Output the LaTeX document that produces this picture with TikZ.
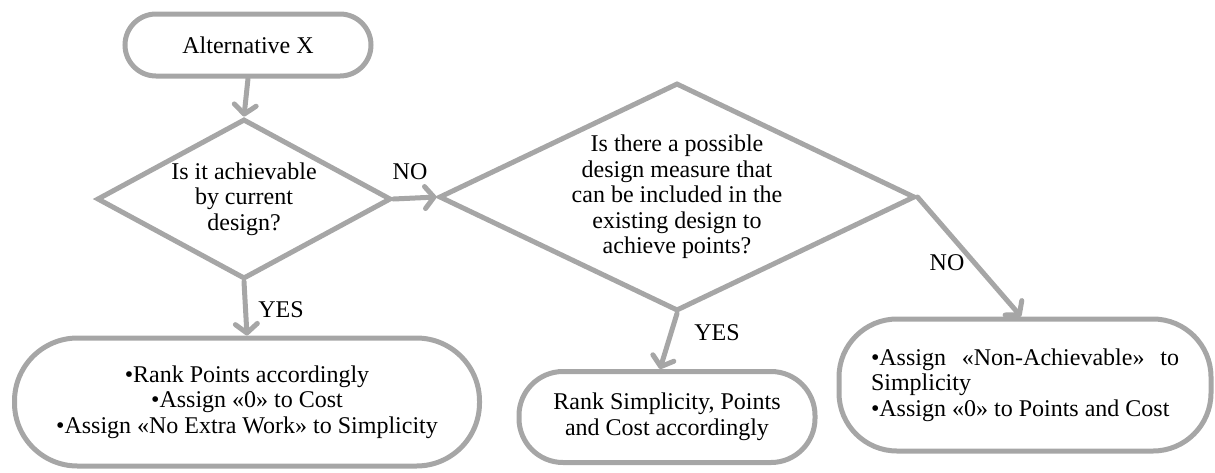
\documentclass[tikz,border=0pt]{standalone}
\usepackage{fontspec}
\setmainfont{Liberation Serif}
\newfontfamily\diagfont{Liberation Serif}
\usetikzlibrary{arrows.meta,shapes.geometric,calc}
\definecolor{linegray}{HTML}{A6A6A6}
\begin{document}
\begin{tikzpicture}[x=1pt,y=-1pt,
  every node/.style={font=\diagfont\fontsize{24}{25.5}\selectfont},
  flowline/.style={draw=linegray,line width=5pt},
  terminal/.style={flowline,rectangle,align=center,inner sep=0pt},
  decision/.style={flowline,diamond,align=center,inner sep=0pt},
  connector/.style={flowline,line cap=round,
    -{Straight Barb[length=9pt,width=22pt,line cap=round,line join=round]}},
  tag/.style={inner sep=0pt}]
\useasboundingbox (0,0) rectangle (1215,472);

% start
\node[terminal,minimum width=246pt,minimum height=62pt,rounded corners=31pt]
  (start) at (248,45) {Alternative X};

% decisions
\node[decision,aspect=1.8,minimum width=294pt,minimum height=160pt]
  (d1) at (244,199) {Is it achievable\\by current\\design?};
\node[decision,aspect=2.05,minimum width=476pt,minimum height=228pt]
  (d2) at (677,197) {Is there a possible\\design measure that\\can be included in the\\existing design to\\achieve points?};

% outcomes
\node[terminal,minimum width=465pt,minimum height=128pt,rounded corners=63pt]
  (box1) at (247,402) {\textbullet Rank Points accordingly\\\textbullet Assign «0» to Cost\\\textbullet Assign «No Extra Work» to Simplicity};
\node[terminal,minimum width=296pt,minimum height=91pt,rounded corners=44pt]
  (box2) at (667,417) {Rank Simplicity, Points\\and Cost accordingly};
\node[flowline,rectangle,minimum width=372pt,minimum height=132pt,rounded corners=58pt,
  inner sep=0pt]
  (box3) at (1025,385) {\parbox{308pt}{\hyphenpenalty=10000\exhyphenpenalty=10000
    \emergencystretch=60pt\parindent=0pt
    \textbullet Assign «Non-Achievable» to Simplicity\par
    \textbullet Assign «0» to Points and Cost}};

% connectors
\draw[connector] (start.south) -- (d1.north);
\draw[connector] (d1.east) -- (d2.west);
\draw[connector] (d1.south) -- (box1.north);
\draw[connector] (d2.south) -- ($(box2.north)+(-7,0)$);
\draw[connector] (d2.east) -- ($(box3.north)+(-4,0)$);

% branch labels
\node[tag] (lno1) at (410,172) {NO};
\node[tag] (lyes1) at (281,310) {YES};
\node[tag] (lyes2) at (717,333) {YES};
\node[tag] (lno2) at (947,263) {NO};
\end{tikzpicture}
\end{document}
